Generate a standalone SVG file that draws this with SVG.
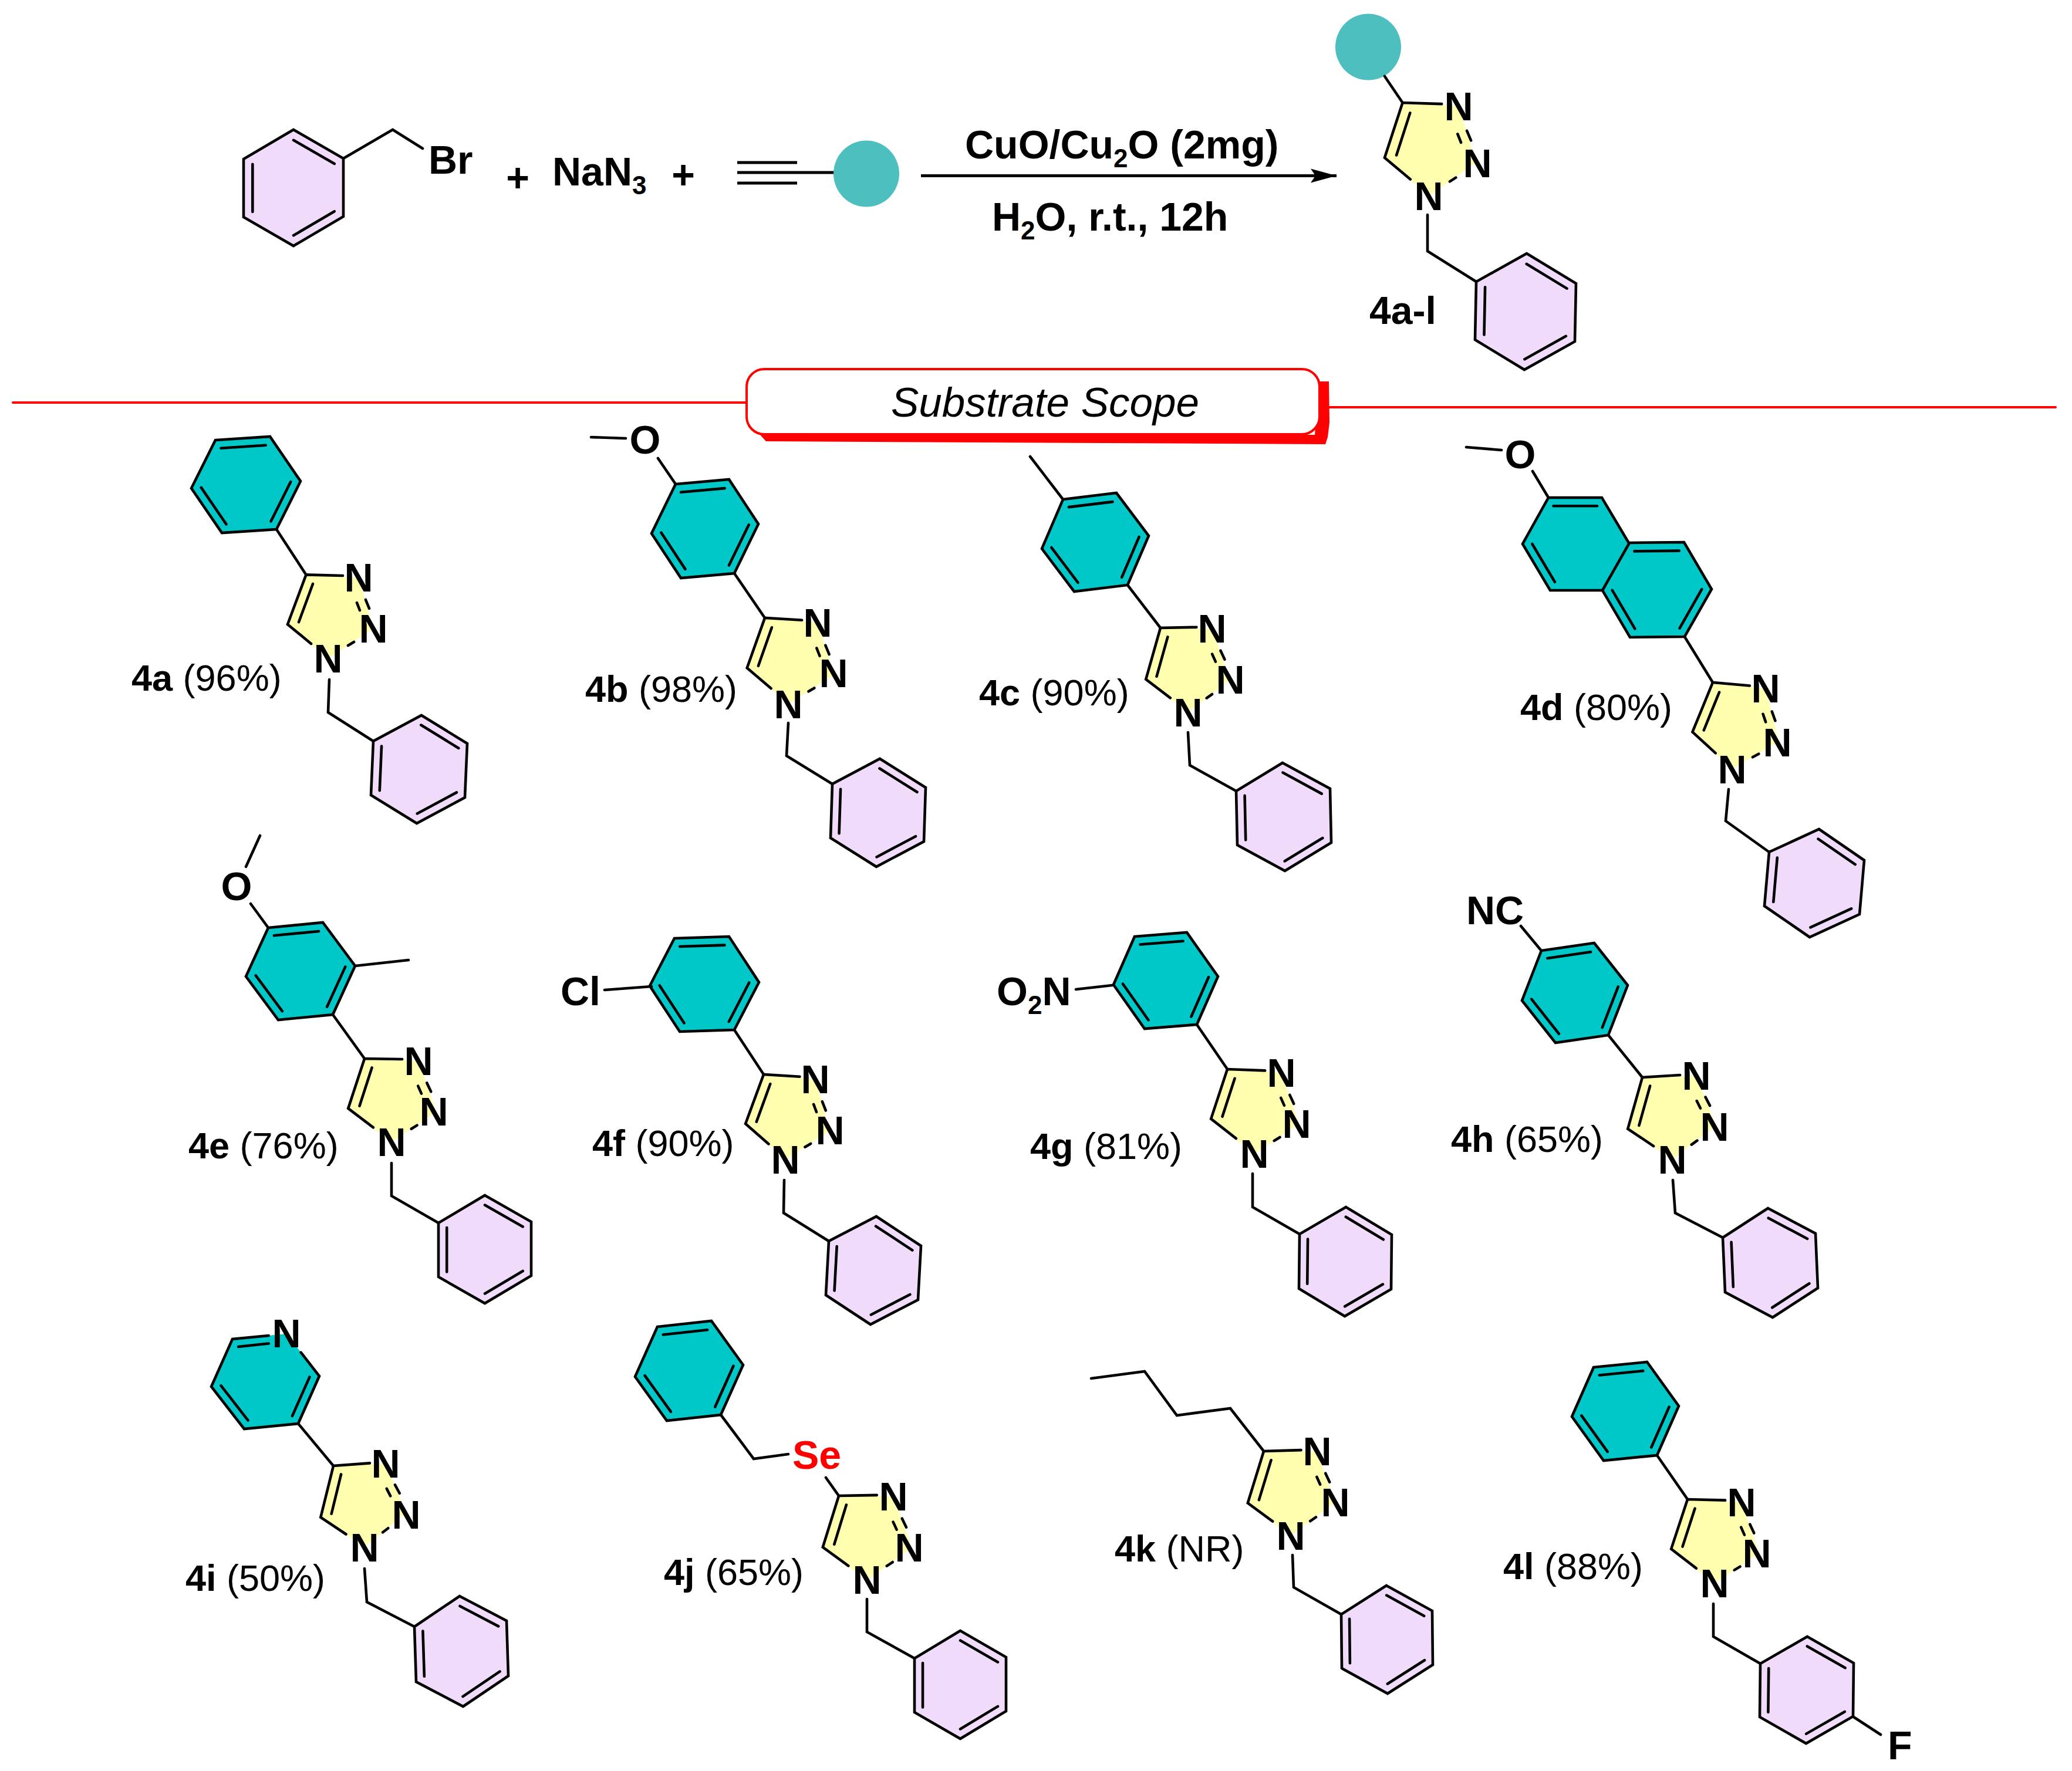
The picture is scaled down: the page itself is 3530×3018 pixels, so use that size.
<svg xmlns="http://www.w3.org/2000/svg" xmlns:xlink="http://www.w3.org/1999/xlink" width="3530" height="3018" viewBox="0 0 3530 3018">
<style>
text{font-family:"Liberation Sans",Arial,sans-serif;fill:#000}
.a{font-size:68px;font-weight:700;text-anchor:middle}
.a0{font-size:68px;font-weight:700}
.r{font-size:68px;font-weight:700}
.l{font-size:63px}
.l tspan{font-weight:700}
.s{font-size:44px}
.b{fill:none;stroke:#000;stroke-width:4.600;stroke-linecap:round;stroke-linejoin:miter;vector-effect:non-scaling-stroke}
.o{stroke:#000;stroke-width:4.600;stroke-linejoin:miter;vector-effect:non-scaling-stroke}
.ar{fill:#00C8C8}
.bn{fill:#F0DCFA}
.rl{fill:none;stroke:#F00;stroke-width:4;stroke-linecap:round}
</style>
<defs>
<g id="hex"><polygon class="o" points="1,0 0,1 -1,1 -1,0 0,-1 1,-1"/><path class="b" d="M.82,0L0,.82M-.82,.82L-.82,0M0,-.82L.82,-.82"/></g>
<g id="hex2"><polygon class="o" points="1,0 0,1 -1,1 -1,0 0,-1 1,-1"/><path class="b" d="M.82,0L0,.82M0,-.82L.82,-.82"/></g>
<g id="pyr"><polygon points="1,0 0,1 -1,1 -1,0 0,-1 1,-1"/><path class="b" d="M-.44,1L-1,1L-1,0L0,-1L1,-1L1,0L.33,.67M.82,0L.26,.565M-.82,.82L-.82,0M0,-.82L.82,-.82"/></g>
<g id="tz"><polygon fill="#FFFFAF" points="0,0 1,0 1.026,.605 0,1 -.609,.613"/><path class="b" d="M.704,-.013L0,0L-.609,.613L-.253,.831M.084,.106L-.381,.577M1.024,.262L1.048,.366M.839,.304L.857,.394M.452,.828L.583,.781"/></g>
<marker id="ah" markerUnits="userSpaceOnUse" markerWidth="46" markerHeight="26" refX="44" refY="13" orient="auto"><path d="M0,1L44,13L0,25L8,13Z" fill="#000"/></marker>
</defs>

<g id="reactant-benzyl-bromide">
<use href="#hex" class="bn" transform="matrix(0 -99 85 -50 500 320)"/>
<path class="b" d="M585,270L669,221L720,253"/>
<text class="a0" x="730" y="296">Br</text>
</g>
<g id="plus-1"><text class="a" x="882" y="326">+</text></g>
<g id="reactant-azide"><text class="r" x="941" y="316">NaN<tspan class="s" dy="15">3</tspan></text></g>
<g id="plus-2"><text class="a" x="1164" y="321">+</text></g>
<g id="reactant-alkyne">
<path fill="none" stroke="#000" stroke-width="5" d="M1256,277H1358M1256,294H1425M1256,312H1358"/>
<ellipse cx="1476" cy="296" rx="56" ry="56.500" fill="#4DBFBF"/>
</g>
<g id="connectors">
<path d="M1569,299.500H2277" fill="none" stroke="#000" stroke-width="5" marker-end="url(#ah)"/>
</g>
<g id="conditions">
<text class="r" x="1644" y="270">CuO/Cu<tspan class="s" dy="15">2</tspan><tspan dy="-15">O (2mg)</tspan></text>
<text class="r" x="1690" y="393">H<tspan class="s" dy="15">2</tspan><tspan dy="-15">O, r.t., 12h</tspan></text>
</g>
<g id="product">
<ellipse cx="2331" cy="80" rx="56" ry="56.500" fill="#4DBFBF"/>
<use href="#tz" transform="matrix(95.500 6 45 159 2389.500 175)"/>
<use href="#hex" class="bn" transform="matrix(2 -99 86 -48 2599 531)"/>
<path class="b" d="M2359,130L2389.500,175M2432,366L2432,428L2515,480"/>
<text class="a" x="2485" y="205">N</text><text class="a" x="2517" y="302">N</text><text class="a" x="2434" y="358">N</text>
<text class="a0" x="2333" y="552" style="font-size:66px">4a-l</text>
</g>

<g id="divider">
<path d="M1295,741L1305,752L2258,757L2262,745L2265,720L2264,650L2248,650L2240,741Z" fill="#F00"/>
<rect x="1272" y="629" width="976" height="111" rx="30" fill="#fff" stroke="#F00" stroke-width="4"/>
<path class="rl" d="M22,686H1272M2264,694H3502"/>
<text x="1518" y="710" font-size="71" font-style="italic">Substrate Scope</text>
</g>

<g id="m4a">
<use href="#hex" class="ar" transform="matrix(-52 -76 41 -82 419 826)"/>
<use href="#tz" transform="matrix(89.500 5 37.500 143 521.500 979.400)"/>
<use href="#hex" class="bn" transform="matrix(4 -92 82 -44 714 1311)"/>
<path class="b" d="M471,902L521.500,979.400M561,1158L559,1214L636,1263"/>
<text class="a" x="611" y="1008">N</text><text class="a" x="636" y="1095">N</text><text class="a" x="559" y="1146">N</text>
<text class="l" x="224" y="1177"><tspan>4a</tspan> (96%)</text>
</g>
<g id="m4b">
<use href="#hex" class="ar" transform="matrix(-50 -76 41 -84 1201 901)"/>
<use href="#tz" transform="matrix(90.500 8 40.500 147 1303 1053)"/>
<use href="#hex" class="bn" transform="matrix(3 -92 81 -43 1496 1385)"/>
<path class="b" d="M1251,977L1303,1053M1343,1232L1340,1288L1418,1336M1121,781L1151,825M1007,745L1066,747"/>
<text class="a" x="1099" y="773">O</text>
<text class="a" x="1393" y="1085">N</text><text class="a" x="1420" y="1171">N</text><text class="a" x="1343" y="1224">N</text>
<text class="l" x="997" y="1196"><tspan>4b</tspan> (98%)</text>
</g>
<g id="m4c">
<use href="#hex" class="ar" transform="matrix(-55 -73 36 -84 1866 924)"/>
<use href="#tz" transform="matrix(88 1 47 144 1977 1070)"/>
<use href="#hex" class="bn" transform="matrix(-2 -92 79 -48 2187 1392)"/>
<path class="b" d="M1921,997L1977,1070M2024,1248L2027,1304L2106,1348M1755,778L1811,851"/>
<text class="a" x="2065" y="1095">N</text><text class="a" x="2096" y="1182">N</text><text class="a" x="2024" y="1238">N</text>
<text class="l" x="1668" y="1202"><tspan>4c</tspan> (90%)</text>
</g>
<g id="m4d">
<use href="#hex2" class="ar" transform="matrix(-47 -79 44 -79 2685 927)"/>
<use href="#hex" class="ar" transform="matrix(-47 -80 46 -81 2823 1005)"/>
<use href="#tz" transform="matrix(90 10.500 33 148 2918 1163)"/>
<use href="#hex" class="bn" transform="matrix(8 -92 85 -39 3091 1505)"/>
<path class="b" d="M2870,1085L2918,1163M2945,1345L2940,1399L3014,1452M2611,803L2638,848M2498,762L2558,767"/>
<text class="a" x="2590" y="798">O</text>
<text class="a" x="3008" y="1197">N</text><text class="a" x="3028" y="1289">N</text><text class="a" x="2951" y="1335">N</text>
<text class="l" x="2590" y="1227"><tspan>4d</tspan> (80%)</text>
</g>
<g id="m4e">
<use href="#hex" class="ar" transform="matrix(-55 -74 38 -83 512 1655)"/>
<use href="#tz" transform="matrix(92 4 46 142.500 621 1804)"/>
<use href="#hex" class="bn" transform="matrix(0 -92 79 -47 826 2129)"/>
<path class="b" d="M567,1729L621,1804M667,1982L667,2038L747,2084M427,1540L457,1581M419,1477L443,1424M605,1646L696,1636"/>
<text class="a" x="403" y="1534">O</text>
<text class="a" x="713" y="1832">N</text><text class="a" x="739" y="1918">N</text><text class="a" x="667" y="1970">N</text>
<text class="l" x="321" y="1974"><tspan>4e</tspan> (76%)</text>
</g>
<g id="m4f">
<use href="#hex" class="ar" transform="matrix(-51 -78 42 -81 1200 1677)"/>
<use href="#tz" transform="matrix(88 8 37 145 1301 1831)"/>
<use href="#hex" class="bn" transform="matrix(5 -92 81 -42 1488 2165)"/>
<path class="b" d="M1251,1755L1301,1831M1336,2011L1335,2067L1412,2115M1030,1687L1110,1681"/>
<text class="a0" x="955" y="1713">Cl</text>
<text class="a" x="1389" y="1863">N</text><text class="a" x="1414" y="1950">N</text><text class="a" x="1338" y="2000">N</text>
<text class="l" x="1009" y="1970"><tspan>4f</tspan> (90%)</text>
</g>
<g id="m4g">
<use href="#hex" class="ar" transform="matrix(-53 -75 36 -82 1986 1671)"/>
<use href="#tz" transform="matrix(92 6 46 144 2091 1822)"/>
<use href="#hex" class="bn" transform="matrix(1 -93 79 -46 2292 2150)"/>
<path class="b" d="M2039,1746L2091,1822M2134,2000L2134,2057L2214,2103M1833,1686L1895,1679"/>
<text class="a0" x="1698" y="1713">O<tspan class="s" dy="15">2</tspan><tspan dy="-15">N</tspan></text>
<text class="a" x="2183" y="1852">N</text><text class="a" x="2209" y="1939">N</text><text class="a" x="2137" y="1990">N</text>
<text class="l" x="1755" y="1975"><tspan>4g</tspan> (81%)</text>
</g>
<g id="m4h">
<use href="#hex" class="ar" transform="matrix(-57 -72 33 -85 2683 1692)"/>
<use href="#tz" transform="matrix(92 -3 51 140 2798 1836)"/>
<use href="#hex" class="bn" transform="matrix(-4 -93 77 -50 3016 2152)"/>
<path class="b" d="M2740,1764L2798,1836M2850,2011L2854,2067L2935,2109M2591,1578L2625,1619"/>
<text class="a0" x="2498" y="1575">NC</text>
<text class="a" x="2890" y="1857">N</text><text class="a" x="2921" y="1944">N</text><text class="a" x="2849" y="2000">N</text>
<text class="l" x="2472" y="1963"><tspan>4h</tspan> (65%)</text>
</g>
<g id="m4i">
<use href="#pyr" class="ar" transform="matrix(-56 -72 36 -81 452 2354)"/>
<use href="#tz" transform="matrix(89 -4 53 139 568 2498)"/>
<use href="#hex" class="bn" transform="matrix(-3 -94 77 -52 786 2814)"/>
<path class="b" d="M508,2426L568,2498M621,2673L625,2730L706,2772"/>
<text class="a" x="488" y="2296">N</text>
<text class="a" x="657" y="2518">N</text><text class="a" x="692" y="2605">N</text><text class="a" x="621" y="2661">N</text>
<text class="l" x="316" y="2711"><tspan>4i</tspan> (50%)</text>
</g>
<g id="m4j">
<use href="#hex" class="ar" transform="matrix(-54 -75 38 -85 1174 2336)"/>
<use href="#tz" transform="matrix(93 1 48 144 1429 2549)"/>
<use href="#hex" class="bn" transform="matrix(0 -92 78 -47 1636 2871)"/>
<path class="b" d="M1228,2411L1284,2486L1343,2478M1407,2518L1429,2549M1477,2725L1477,2781L1558,2826"/>
<text class="a0" x="1350" y="2503" style="fill:#F00">Se</text>
<text class="a" x="1522" y="2574">N</text><text class="a" x="1549" y="2661">N</text><text class="a" x="1477" y="2716">N</text>
<text class="l" x="1131" y="2701"><tspan>4j</tspan> (65%)</text>
</g>
<g id="m4k">
<use href="#tz" transform="matrix(91 0 46 144 2153 2473)"/>
<use href="#hex" class="bn" transform="matrix(-1 -92 77 -49 2363 2794)"/>
<path class="b" d="M1859,2349L1950,2337L2005,2412L2096,2400L2153,2473M2202,2650L2204,2705L2285,2751"/>
<text class="a" x="2244" y="2497">N</text><text class="a" x="2275" y="2584">N</text><text class="a" x="2199" y="2641">N</text>
<text class="l" x="1899" y="2661"><tspan>4k</tspan> (NR)</text>
</g>
<g id="m4l">
<use href="#hex" class="ar" transform="matrix(-54 -75 37 -84 2769 2405)"/>
<use href="#tz" transform="matrix(92 5 46 143 2875 2555)"/>
<use href="#hex" class="bn" transform="matrix(1 -91 80 -46 3078 2880)"/>
<path class="b" d="M2823,2480L2875,2555M2919,2733L2919,2789L2999,2835M3158,2926L3204,2956"/>
<text class="a" x="2967" y="2584">N</text><text class="a" x="2993" y="2671">N</text><text class="a" x="2921" y="2722">N</text>
<text class="a0" x="3216" y="2998">F</text>
<text class="l" x="2561" y="2691"><tspan>4l</tspan> (88%)</text>
</g>
</svg>
